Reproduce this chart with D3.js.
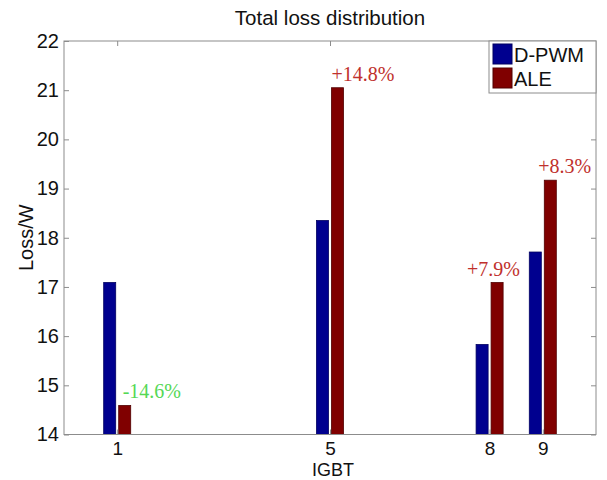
<!doctype html>
<html lang="">
<head>
<meta charset="utf-8">
<title>Total loss distribution</title>
<script src="https://d3js.org/d3.v7.min.js"></script>
<style>
  body { margin: 0; background: #fff; }
  text { font-family: "Liberation Sans", Arial, sans-serif; }
  .note { font-family: "Liberation Serif", "Times New Roman", serif; }
</style>
</head>
<body>
<div id="main"></div>
<script type="text/javascript">
 // data
 const igbts = [1, 5, 8, 9]
 const seriesNames = ['D-PWM', 'ALE']
 const dpwmLoss = [17.09, 18.35, 15.83, 17.71]
 const aleLoss = [14.59, 21.05, 17.09, 19.17]
 const changeLabels = ['-14.6%', '+14.8%', '+7.9%', '+8.3%']
 const xTicks = [1, 5, 8, 9]
 const yTicks = [14, 15, 16, 17, 18, 19, 20, 21, 22]

 const width = 607, height = 480
 const margin = {top: 41, right: 11, bottom: 45.5, left: 64}
 const innerW = width - margin.left - margin.right
 const innerH = height - margin.top - margin.bottom

 const colours = ['#00008f', '#800000']
 const edges = ['#000060', '#500000']
 const noteColours = ['#55d855', '#c0302c', '#c0302c', '#c0302c']
 // pixel nudges of the percentage notes relative to the ALE bar's left edge
 const noteDx = [4, 0, -24, -6]

 const svg = d3.select('#main').append('svg')
               .attr('width', width).attr('height', height)

 const g = svg.append('g')
              .attr('transform', `translate(${margin.left},${margin.top})`)

 const x = d3.scaleLinear().domain([0, 10]).range([0, innerW])
 const y = d3.scaleLinear().domain([14, 22]).range([innerH, 0])

 const barW = x(0.226) - x(0)
 const offsets = [-0.141, 0.141]

 const rows = igbts.map((k, i) => ({igbt: k, vals: [dpwmLoss[i], aleLoss[i]], note: changeLabels[i], i}))

 // bars
 const groups = g.selectAll('g.grp').data(rows).enter().append('g').attr('class', 'grp')
 groups.selectAll('rect')
       .data(d => d.vals.map((v, s) => ({igbt: d.igbt, v, s})))
       .enter().append('rect')
       .attr('x', d => x(d.igbt + offsets[d.s]) - barW / 2)
       .attr('y', d => y(d.v))
       .attr('width', barW)
       .attr('height', d => y(14) - y(d.v))
       .attr('fill', d => colours[d.s])
       .attr('stroke', d => edges[d.s])
       .attr('stroke-width', 0.8)

 // percentage notes
 g.selectAll('text.note').data(rows).enter().append('text')
  .attr('class', 'note')
  .attr('x', d => x(d.igbt + offsets[1]) - barW / 2 + noteDx[d.i])
  .attr('y', d => y(d.vals[1]) - 7)
  .attr('fill', d => noteColours[d.i])
  .style('font-size', '20px')
  .text(d => d.note)

 // axes box
 const axisColour = '#8c8c8c'
 g.append('rect').attr('width', innerW).attr('height', innerH)
  .attr('fill', 'none').attr('stroke', axisColour).attr('stroke-width', 1)

 const xAxis = g.append('g').attr('transform', `translate(0,${innerH})`)
                .call(d3.axisBottom(x).tickValues(xTicks).tickSize(-5).tickPadding(7).tickFormat(d3.format('d')))
 const xTop = g.append('g')
               .call(d3.axisTop(x).tickValues(xTicks).tickSize(-5).tickFormat(''))
 const yAxis = g.append('g')
                .call(d3.axisLeft(y).tickValues(yTicks).tickSize(-5).tickPadding(5).tickFormat(d3.format('d')))
 const yRight = g.append('g').attr('transform', `translate(${innerW},0)`)
                 .call(d3.axisRight(y).tickValues(yTicks).tickSize(-5).tickFormat(''))

 ;[xAxis, xTop, yAxis, yRight].forEach(a => {
     a.select('.domain').remove()
     a.selectAll('line').attr('stroke', axisColour)
     a.selectAll('text').attr('fill', '#111').style('font-size', '20px')
 })
 xAxis.selectAll('text').style('font-size', '19px')

 // labels
 svg.append('text').attr('x', margin.left + innerW / 2).attr('y', 25)
    .attr('text-anchor', 'middle').style('font-size', '20.5px').attr('fill', '#111')
    .text('Total loss distribution')
 svg.append('text').attr('x', margin.left + innerW / 2 + 3).attr('y', 476)
    .attr('text-anchor', 'middle').style('font-size', '18px').attr('fill', '#111')
    .text('IGBT')
 svg.append('text')
    .attr('transform', `translate(33,${margin.top + innerH / 2}) rotate(-90)`)
    .attr('text-anchor', 'middle').style('font-size', '20px').attr('fill', '#111')
    .text('Loss/W')

 // legend
 const lg = g.append('g').attr('transform', `translate(${innerW - 107},0)`)
 lg.append('rect').attr('width', 107).attr('height', 52)
   .attr('fill', '#fff').attr('stroke', axisColour)
 const items = lg.selectAll('g').data(seriesNames).enter().append('g')
                 .attr('transform', (d, i) => `translate(4,${3 + i * 24})`)
 items.append('rect').attr('width', 19).attr('height', 20)
      .attr('fill', (d, i) => colours[i]).attr('stroke', (d, i) => edges[i])
 items.append('text').attr('x', 21).attr('y', 18)
      .style('font-size', '20px').attr('fill', '#111')
      .text(d => d)
</script>
</body>
</html>
